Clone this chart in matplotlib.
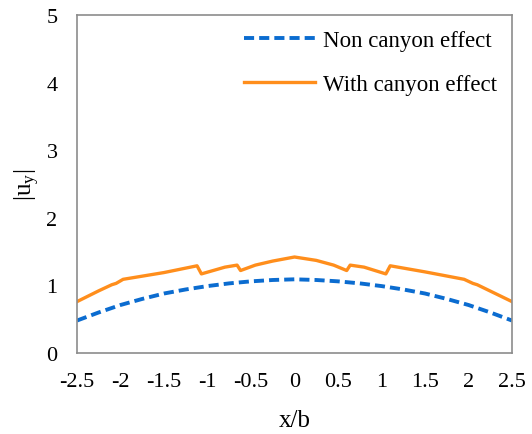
import matplotlib
matplotlib.use("Agg")
import matplotlib.pyplot as plt

plt.rcParams['font.family'] = ['Liberation Serif', 'DejaVu Serif']
plt.rcParams['mathtext.fontset'] = 'custom'
plt.rcParams['mathtext.rm'] = 'Liberation Serif'
plt.rcParams['mathtext.it'] = 'Liberation Serif:italic'

# Non canyon effect
x_non = [-2.5, -2.25, -2.0, -1.75, -1.5, -1.25, -1.0, -0.75, -0.5, -0.25, 0.0,
         0.25, 0.5, 0.75, 1.0, 1.25, 1.5, 1.75, 2.0, 2.25, 2.5]
y_non = [0.48, 0.60, 0.71, 0.80, 0.88, 0.94, 0.99, 1.03, 1.06, 1.08, 1.09,
         1.08, 1.06, 1.03, 0.99, 0.94, 0.88, 0.80, 0.71, 0.60, 0.48]

# With canyon effect
x_can = [-2.5, -2.25, -2.1, -2.05, -1.97, -1.5, -1.12, -1.07, -0.8, -0.66, -0.62,
         -0.45, -0.25, 0.0, 0.25, 0.45, 0.6, 0.64, 0.8, 1.05, 1.10, 1.5, 1.95,
         2.05, 2.1, 2.5]
y_can = [0.76, 0.92, 1.01, 1.03, 1.09, 1.19, 1.29, 1.17, 1.27, 1.30, 1.22,
         1.30, 1.36, 1.42, 1.37, 1.30, 1.22, 1.30, 1.27, 1.17, 1.29, 1.20, 1.09,
         1.03, 1.01, 0.76]

xticks = [-2.5, -2, -1.5, -1, -0.5, 0, 0.5, 1, 1.5, 2, 2.5]
xticklabels = ['-2.5', '-2', '-1.5', '-1', '-0.5', '0', '0.5', '1', '1.5', '2', '2.5']
yticks = [0, 1, 2, 3, 4, 5]

fig = plt.figure(figsize=(5.32, 4.35), dpi=100)
ax = fig.add_axes([77/532, 1-354/435, (512-77)/532, (354-16)/435])

ax.plot(x_non, y_non, color='#0B6CD0', lw=2.8, ls=(0, (2.6, 1.3)), label='Non canyon effect')
ax.plot(x_can, y_can, color='#FF8E1C', lw=2.4, label='With canyon effect')

ax.set_xlim(-2.5, 2.5)
ax.set_ylim(0, 5)
ax.set_xticks(xticks)
ax.set_xticklabels(xticklabels)
ax.set_yticks(yticks)
ax.tick_params(length=0, labelsize=16, pad=14)
for s in ax.spines.values():
    s.set_color('#8C8C8C')
    s.set_linewidth(1.2)

ax.set_xlabel('x/b', fontsize=18, labelpad=13)
ax.set_ylabel(r'$\mathrm{|u_y|}$', fontsize=18, labelpad=3)

ax.legend(loc='upper right', frameon=False, fontsize=16.5, handlelength=3.1,
          handletextpad=0.35, labelspacing=1.0, borderaxespad=0.25)

fig.savefig('out.png', dpi=100)
